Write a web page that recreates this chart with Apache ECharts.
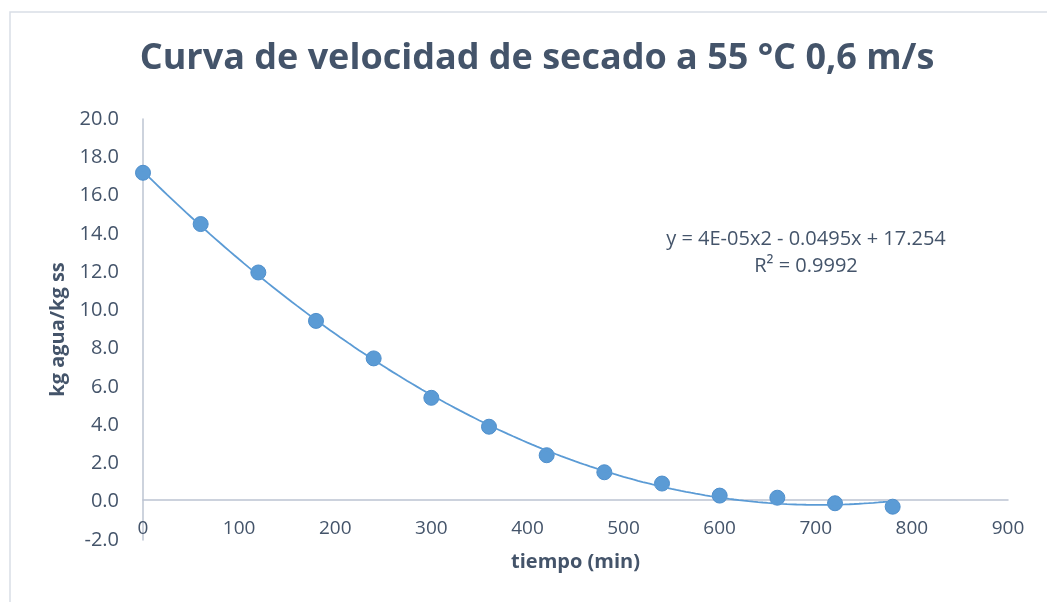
<!DOCTYPE html>
<html><head><meta charset="utf-8">
<script src="https://cdn.jsdelivr.net/npm/echarts@6/dist/echarts.min.js"></script>
<style>html,body{margin:0;padding:0;background:#fff}#c{width:1047px;height:602px}</style>
</head><body><div id="c"></div>
<script>
const timeMin = [0, 60, 120, 180, 240, 300, 360, 420, 480, 540, 600, 660, 720, 780];
const moisture = [17.19, 14.51, 11.98, 9.45, 7.49, 5.43, 3.92, 2.43, 1.54, 0.95, 0.32, 0.21, -0.08, -0.26];
const titleText = 'Curva de velocidad de secado a 55 °C 0,6 m/s';
const xName = 'tiempo (min)';
const yName = 'kg agua/kg ss';
const eqLines = ['y = 4E-05x2 - 0.0495x + 17.254', 'R² = 0.9992'];

// quadratic least-squares trendline (as Excel's polynomial order 2)
function polyFit2(xs, ys) {
  let S = [0,0,0,0,0], T = [0,0,0];
  for (let i = 0; i < xs.length; i++) {
    let p = 1;
    for (let k = 0; k < 5; k++) { S[k] += p; if (k < 3) T[k] += p * ys[i]; p *= xs[i]; }
  }
  const A = [[S[0],S[1],S[2],T[0]],[S[1],S[2],S[3],T[1]],[S[2],S[3],S[4],T[2]]];
  for (let i = 0; i < 3; i++) {
    for (let j = i + 1; j < 3; j++) {
      const f = A[j][i] / A[i][i];
      for (let k = i; k < 4; k++) A[j][k] -= f * A[i][k];
    }
  }
  const c = [0,0,0];
  for (let i = 2; i >= 0; i--) {
    let s = A[i][3];
    for (let k = i + 1; k < 3; k++) s -= A[i][k] * c[k];
    c[i] = s / A[i][i];
  }
  return c;
}
const coef = polyFit2(timeMin, moisture);
const trend = [];
const x0 = timeMin[0], x1 = timeMin[timeMin.length - 1];
for (let i = 0; i <= 156; i++) {
  const x = x0 + (x1 - x0) * i / 156;
  trend.push([x, coef[0] + coef[1] * x + coef[2] * x * x]);
}

const txt = '#44546A';
const ff = 'Open Sans';
const chart = echarts.init(document.getElementById('c'));
chart.setOption({
  animation: false,
  backgroundColor: '#fff',
  title: {
    text: titleText, left: 532, top: 36, textAlign: 'center',
    textStyle: { fontFamily: ff, fontWeight: 'bold', fontSize: 36, color: txt }
  },
  grid: { left: 143, right: 39, top: 119, bottom: 62, containLabel: false, outerBoundsMode: 'none' },
  xAxis: {
    type: 'value', min: 0, max: 900, interval: 100, offset: -40,
    name: xName, nameLocation: 'middle', nameGap: 52,
    nameTextStyle: { fontFamily: ff, fontWeight: 'bold', fontSize: 20, color: txt },
    axisLine: { onZero: false, lineStyle: { color: '#BCC4D2', width: 1.5 } },
    axisTick: { show: false },
    splitLine: { show: false },
    axisLabel: { margin: 19, fontFamily: ff, fontSize: 19, color: txt }
  },
  yAxis: {
    type: 'value', min: -2, max: 20, interval: 2,
    name: yName, nameLocation: 'middle', nameGap: 71, nameRotate: 90,
    nameTextStyle: { fontFamily: ff, fontWeight: 'bold', fontSize: 20, color: txt },
    axisLine: { show: true, onZero: false, lineStyle: { color: '#BCC4D2', width: 1.5 } },
    axisTick: { show: false },
    splitLine: { show: false },
    axisLabel: { margin: 24, fontFamily: ff, fontSize: 20, color: txt, formatter: v => v.toFixed(1) }
  },
  graphic: [
    { type: 'rect', shape: { x: 10, y: 12, width: 1100, height: 700 }, style: { fill: 'none', stroke: '#D9DEE6', lineWidth: 1.5 }, z: -1 },
    { type: 'text', x: 806, y: 229, style: { text: eqLines[0], textAlign: 'center', fontFamily: ff, fontSize: 20, fill: txt } },
    { type: 'text', x: 806, y: 256, style: { text: eqLines[1], textAlign: 'center', fontFamily: ff, fontSize: 20, fill: txt } }
  ],
  series: [
    { type: 'scatter', data: timeMin.map((t, i) => [t, moisture[i]]), symbolSize: 15,
      itemStyle: { color: '#5B9BD5', opacity: 1, borderColor: '#4F8FCC', borderWidth: 1 }, z: 2 },
    { type: 'line', data: trend, showSymbol: false, smooth: false,
      lineStyle: { color: '#5B9BD5', width: 1.8 }, z: 3 }
  ]
});
</script></body></html>
